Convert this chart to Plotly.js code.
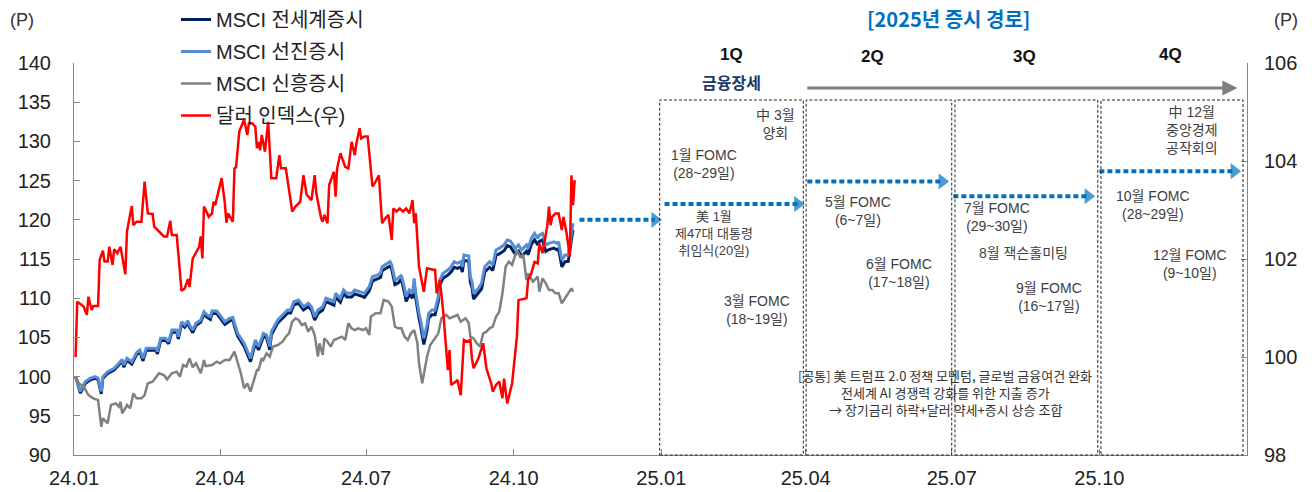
<!DOCTYPE html>
<html><head><meta charset="utf-8">
<script src="https://cdn.plot.ly/plotly-3.0.1.min.js"></script>
<style>html,body{margin:0;padding:0;background:#fff}</style>
</head><body><div id="chart" style="width:1315px;height:492px"></div>
<script>
// ---- data ----
const seriesNames = ['MSCI 전세계증시', 'MSCI 선진증시', 'MSCI 신흥증시', '달러 인덱스(우)'];

const msciDates = [
 '2024-01-02','2024-01-05','2024-01-08','2024-01-11','2024-01-14','2024-01-16','2024-01-18','2024-01-19','2024-01-22','2024-01-26','2024-01-29','2024-01-31',
 '2024-02-01','2024-02-03','2024-02-06','2024-02-09','2024-02-11','2024-02-13','2024-02-15','2024-02-18','2024-02-21','2024-02-22','2024-02-24','2024-02-27','2024-02-29',
 '2024-03-02','2024-03-05','2024-03-06','2024-03-08','2024-03-10','2024-03-12','2024-03-13','2024-03-15','2024-03-17','2024-03-20','2024-03-22','2024-03-24','2024-03-26','2024-03-27','2024-03-30',
 '2024-04-01','2024-04-04','2024-04-07','2024-04-09','2024-04-10','2024-04-12','2024-04-16','2024-04-20','2024-04-23','2024-04-25','2024-04-27','2024-04-28','2024-04-30',
 '2024-05-02','2024-05-03','2024-05-07','2024-05-10','2024-05-13','2024-05-15','2024-05-17','2024-05-20','2024-05-23','2024-05-26','2024-05-28','2024-05-30',
 '2024-06-01','2024-06-04','2024-06-06','2024-06-09','2024-06-11','2024-06-12','2024-06-15','2024-06-17','2024-06-19','2024-06-22','2024-06-24','2024-06-27','2024-06-30',
 '2024-07-03','2024-07-05','2024-07-08','2024-07-10','2024-07-11','2024-07-14','2024-07-16','2024-07-17','2024-07-19','2024-07-21','2024-07-23','2024-07-25','2024-07-26','2024-07-28','2024-07-30','2024-07-31',
 '2024-08-01','2024-08-03','2024-08-04','2024-08-06','2024-08-08','2024-08-09','2024-08-11','2024-08-13','2024-08-15','2024-08-16','2024-08-18','2024-08-21','2024-08-23','2024-08-25','2024-08-27','2024-08-29','2024-08-30','2024-08-31',
 '2024-09-03','2024-09-04','2024-09-05','2024-09-06','2024-09-09','2024-09-11','2024-09-13','2024-09-16','2024-09-18','2024-09-20','2024-09-22','2024-09-25','2024-09-27','2024-09-29',
 '2024-10-02','2024-10-04','2024-10-06','2024-10-09','2024-10-10','2024-10-12','2024-10-14','2024-10-16','2024-10-17','2024-10-19','2024-10-21','2024-10-23','2024-10-26','2024-10-28','2024-10-29','2024-10-31',
 '2024-11-02','2024-11-04','2024-11-06','2024-11-07'
];
const worldVals = [
 100.0,97.9,99.1,99.55,99.8,99.6,97.8,99.8,100.4,100.85,101.5,102.0,
 101.2,102.1,101.6,102.8,103.15,102.0,103.35,103.4,103.4,102.9,104.6,104.65,104.2,
 105.65,105.7,104.8,106.7,106.3,106.85,106.3,105.6,106.5,106.95,108.0,107.55,107.3,108.05,108.05,
 107.55,106.65,107.1,107.25,106.45,105.15,103.85,101.9,104.3,103.4,104.5,105.15,104.95,
 103.4,105.35,106.85,107.45,108.1,108.1,109.15,109.35,108.5,108.95,108.5,107.2,
 108.05,108.5,109.55,109.3,109.1,110.15,109.5,110.6,110.15,110.15,110.55,110.35,110.1,
 110.95,112.2,112.45,112.65,113.5,113.9,114.1,113.7,111.75,111.95,112.4,110.65,109.6,110.45,110.0,111.9,
 110.0,107.45,106.5,104.1,105.9,107.45,107.9,107.9,109.55,111.7,112.55,112.95,113.35,113.95,113.8,114.0,113.35,114.85,
 114.7,112.0,111.4,109.9,110.6,111.2,113.35,113.95,113.55,115.45,115.65,116.05,116.7,116.55,
 115.6,116.0,115.35,116.0,115.55,116.85,117.45,116.8,117.25,117.45,115.95,116.2,116.4,116.15,116.35,114.0,
 114.65,114.7,117.5,118.7
];
const devVals = [
 100.0,98.1,99.35,99.78,99.99,99.8,98.1,100.0,100.63,101.06,101.7,102.2,
 101.48,102.33,101.9,103.05,103.39,102.33,103.61,103.61,103.61,103.18,104.88,104.88,104.45,
 105.94,105.94,105.09,107.0,106.58,107.13,106.58,105.94,106.8,107.22,108.28,107.86,107.64,108.37,108.37,
 107.86,107.0,107.43,107.56,106.8,105.52,104.25,102.33,104.67,103.82,104.88,105.52,105.31,
 103.82,105.73,107.22,107.86,108.5,108.5,109.56,109.77,108.92,109.35,108.92,107.64,
 108.5,108.92,109.99,109.77,109.56,110.62,109.99,111.05,110.62,110.62,111.05,110.83,110.62,
 111.47,112.74,112.95,113.18,114.02,114.45,114.66,114.24,112.32,112.53,112.95,111.26,110.19,111.05,110.62,112.53,
 110.62,108.07,107.2,104.88,106.58,108.07,108.5,108.5,110.19,112.32,113.18,113.6,114.02,114.66,114.45,114.66,114.02,115.51,
 115.38,112.74,112.11,110.62,111.26,111.9,114.02,114.66,114.24,116.15,116.36,116.79,117.42,117.3,
 116.36,116.79,116.15,116.79,116.36,117.63,118.27,117.63,118.06,118.27,116.79,117.0,117.2,117.0,117.2,114.87,
 115.5,115.5,118.27,119.55
];

const emDates = [
 '2024-01-02','2024-01-04','2024-01-07','2024-01-10','2024-01-13','2024-01-16','2024-01-18','2024-01-19','2024-01-22','2024-01-24','2024-01-27','2024-01-29','2024-01-30','2024-01-31',
 '2024-02-02','2024-02-03','2024-02-05','2024-02-07','2024-02-09','2024-02-12','2024-02-14','2024-02-16','2024-02-19','2024-02-23','2024-02-26','2024-02-28',
 '2024-03-02','2024-03-05','2024-03-07','2024-03-09','2024-03-11','2024-03-13','2024-03-15','2024-03-17','2024-03-20','2024-03-22','2024-03-23','2024-03-27','2024-03-30',
 '2024-04-01','2024-04-04','2024-04-07','2024-04-10','2024-04-12','2024-04-14','2024-04-16','2024-04-18','2024-04-20','2024-04-22','2024-04-24','2024-04-25','2024-04-27','2024-04-28','2024-04-30',
 '2024-05-02','2024-05-04','2024-05-07','2024-05-10','2024-05-12','2024-05-14','2024-05-16','2024-05-18','2024-05-20','2024-05-22','2024-05-24','2024-05-26','2024-05-28','2024-05-30',
 '2024-06-01','2024-06-02','2024-06-04','2024-06-05','2024-06-07','2024-06-09','2024-06-11','2024-06-13','2024-06-16','2024-06-18','2024-06-20','2024-06-22','2024-06-24','2024-06-26','2024-06-29',
 '2024-07-01','2024-07-03','2024-07-04','2024-07-07','2024-07-10','2024-07-12','2024-07-15','2024-07-17','2024-07-19','2024-07-21','2024-07-23','2024-07-25','2024-07-27','2024-07-29','2024-07-31',
 '2024-08-02','2024-08-03','2024-08-05','2024-08-08','2024-08-10','2024-08-13','2024-08-15','2024-08-17','2024-08-20','2024-08-22','2024-08-25','2024-08-27','2024-08-29',
 '2024-09-01','2024-09-03','2024-09-04','2024-09-06','2024-09-08','2024-09-10','2024-09-12','2024-09-14','2024-09-16','2024-09-18','2024-09-20','2024-09-22','2024-09-24','2024-09-26','2024-09-28','2024-09-30',
 '2024-10-03','2024-10-05','2024-10-07','2024-10-09','2024-10-10','2024-10-13','2024-10-16','2024-10-17','2024-10-19','2024-10-21','2024-10-23','2024-10-25','2024-10-27','2024-10-29','2024-10-31',
 '2024-11-02','2024-11-04','2024-11-06','2024-11-07'
];
const emVals = [
 100.0,99.14,98.71,97.65,97.23,97.0,93.6,94.68,94.04,96.38,96.59,96.17,96.8,95.32,
 95.96,96.38,95.96,97.87,97.23,97.23,97.65,99.14,99.35,100.42,100.2,99.65,
 100.42,100.63,99.99,101.48,101.27,102.33,101.19,101.7,100.42,102.12,101.35,101.48,101.9,
 101.7,102.12,102.12,103.18,101.7,100.42,98.5,99.14,98.1,99.35,100.84,100.84,102.33,102.12,102.97,
 102.54,103.82,104.03,104.45,105.09,105.52,107.0,107.43,107.22,106.58,106.8,105.73,106.37,105.31,
 102.54,104.25,102.76,104.88,104.45,103.82,104.67,104.88,105.09,104.67,106.8,106.16,105.94,106.16,105.94,
 106.16,105.31,107.64,108.07,108.07,109.77,109.56,108.92,106.37,106.16,106.16,105.09,104.67,105.52,105.94,
 104.25,101.7,99.14,102.54,104.03,104.88,105.52,107.43,107.86,107.43,107.64,107.86,107.0,
 107.43,106.8,105.09,104.88,104.25,103.82,105.52,105.73,106.16,106.37,107.64,108.28,110.62,114.02,114.66,114.24,
 116.15,115.29,115.5,112.32,113.18,112.1,112.74,110.83,112.53,111.9,111.05,111.05,110.62,110.62,109.35,
 109.99,110.62,111.26,110.83
];

const dxyDates = [
 '2024-01-02','2024-01-03','2024-01-07','2024-01-09','2024-01-10','2024-01-12','2024-01-13','2024-01-16','2024-01-17','2024-01-19','2024-01-20','2024-01-22','2024-01-23','2024-01-25','2024-01-26','2024-01-28','2024-01-30',
 '2024-02-02','2024-02-03','2024-02-06','2024-02-07','2024-02-09','2024-02-12','2024-02-14','2024-02-16','2024-02-19','2024-02-20','2024-02-23','2024-02-26','2024-02-28',
 '2024-03-01','2024-03-02','2024-03-05','2024-03-08','2024-03-10','2024-03-12','2024-03-13','2024-03-15','2024-03-19','2024-03-20','2024-03-21','2024-03-22','2024-03-25','2024-03-27','2024-03-28','2024-03-29',
 '2024-04-02','2024-04-04','2024-04-05','2024-04-06','2024-04-09','2024-04-10','2024-04-11','2024-04-13','2024-04-16','2024-04-18','2024-04-19','2024-04-21','2024-04-23','2024-04-24','2024-04-25','2024-04-26','2024-04-27','2024-04-29',
 '2024-05-01','2024-05-03','2024-05-06','2024-05-08','2024-05-09','2024-05-12','2024-05-16','2024-05-18','2024-05-21','2024-05-23','2024-05-25','2024-05-28','2024-05-30','2024-05-31',
 '2024-06-03','2024-06-04','2024-06-05','2024-06-07','2024-06-08','2024-06-11','2024-06-12','2024-06-13','2024-06-15','2024-06-18','2024-06-20','2024-06-22','2024-06-24','2024-06-25','2024-06-27','2024-06-28','2024-06-30',
 '2024-07-02','2024-07-05','2024-07-07','2024-07-09','2024-07-11','2024-07-13','2024-07-15','2024-07-17','2024-07-18','2024-07-20','2024-07-22','2024-07-24','2024-07-26','2024-07-28','2024-07-30','2024-07-31',
 '2024-08-01','2024-08-03','2024-08-06','2024-08-08','2024-08-12','2024-08-13','2024-08-14','2024-08-16','2024-08-18','2024-08-21','2024-08-22','2024-08-23','2024-08-26','2024-08-27','2024-08-29','2024-08-30','2024-08-31',
 '2024-09-02','2024-09-04','2024-09-05','2024-09-06','2024-09-09','2024-09-12','2024-09-14','2024-09-17','2024-09-18','2024-09-20','2024-09-22','2024-09-24','2024-09-25','2024-09-27','2024-09-30',
 '2024-10-03','2024-10-04','2024-10-09','2024-10-10','2024-10-12','2024-10-14','2024-10-16','2024-10-17','2024-10-19','2024-10-22','2024-10-23','2024-10-24','2024-10-25','2024-10-27','2024-10-29','2024-10-31',
 '2024-11-01','2024-11-03','2024-11-05','2024-11-06','2024-11-07','2024-11-08'
];
const dxyVals = [
 100.0,101.13,101.03,100.86,101.23,100.96,101.04,101.04,101.98,102.17,101.95,101.95,102.25,101.88,102.2,102.12,102.25,
 101.69,102.56,103.08,102.69,102.76,102.76,103.58,102.93,102.92,102.66,102.56,102.46,102.46,
 102.78,102.49,102.49,101.35,101.4,101.59,101.43,102.01,102.25,102.46,102.01,103.07,102.86,102.93,103.17,103.1,
 103.65,103.14,102.74,102.93,102.76,103.85,103.87,104.6,104.84,104.53,104.77,104.77,104.7,104.26,104.39,104.22,104.53,104.19,
 104.8,103.65,103.65,104.12,103.85,103.85,102.97,103.07,103.17,103.71,103.31,103.2,103.71,103.34,
 102.83,102.76,102.9,102.73,103.51,103.78,103.27,103.85,104.16,103.88,103.85,104.39,104.12,104.36,104.67,104.46,104.5,
 104.5,103.48,103.58,103.71,102.73,102.83,102.9,102.39,103.03,102.97,103.03,102.97,103.03,102.93,103.2,102.73,
 102.93,101.84,101.33,101.81,101.78,101.78,101.3,101.57,100.96,99.73,100.14,99.43,99.5,99.53,99.22,99.8,100.35,
 100.31,100.35,99.97,99.77,99.97,100.28,99.77,99.46,99.29,99.43,99.5,99.16,99.56,99.05,99.46,
 100.41,101.16,101.2,101.57,101.71,101.94,101.91,102.32,102.12,102.69,103.07,102.69,102.86,102.93,102.93,102.59,
 102.86,102.52,102.05,103.71,103.1,103.61
];

const xTickVals = ['2024-01-01','2024-04-01','2024-07-01','2024-10-01','2025-01-01','2025-04-01','2025-07-01','2025-10-01'];
const xTickText = ['24.01','24.04','24.07','24.10','25.01','25.04','25.07','25.10'];

// expected 2025 path (dotted blue arrows), levels on left axis
const pathStart = ['2024-11-11','2025-01-03','2025-04-02','2025-07-02','2025-10-01'];
const pathEnd   = ['2024-12-28','2025-03-27','2025-06-25','2025-09-24','2025-12-24'];
const pathLevel = [120.0, 122.0, 124.9, 123.0, 126.2];

// quarter boxes
const quarterLabels = ['1Q', '2Q', '3Q', '4Q'];
const boxStart = ['2024-12-31', '2025-04-01 06:00', '2025-07-03', '2025-10-02'];
const boxEnd   = ['2025-03-30 12:00', '2025-07-01', '2025-09-30', '2025-12-29 12:00'];

const eventTexts = [
 '中 3월<br>양회',
 '1월 FOMC<br>(28~29일)',
 '美 1월<br>제47대 대통령<br>취임식(20일)',
 '3월 FOMC<br>(18~19일)',
 '5월 FOMC<br>(6~7일)',
 '6월 FOMC<br>(17~18일)',
 '7월 FOMC<br>(29~30일)',
 '8월 잭슨홀미팅',
 '9월 FOMC<br>(16~17일)',
 '中 12월<br>중앙경제<br>공작회의',
 '10월 FOMC<br>(28~29일)',
 '12월 FOMC<br>(9~10일)'
];
const commonLines = [
 '[공통] 美 트럼프 2.0 정책 모멘텀, 글로벌 금융여건 완화',
 '전세계 AI 경쟁력 강화를 위한 지출 증가',
 '→ 장기금리 하락+달러 약세+증시 상승 조합'
];

// ---- drawing ----
const FONT = 'Liberation Sans, Arial, Noto Sans CJK KR, sans-serif';
const KFONT = 'Noto Sans CJK KR, Liberation Sans, sans-serif';
const PL = 74, PR = 1247, PT = 63, PB = 455;
const px = x => (x - PL) / (PR - PL);
const py = y => (PB - y) / (PB - PT);

const traces = [
  {x: msciDates, y: worldVals, name: seriesNames[0], legendgroup: 'g1', type: 'scatter', mode: 'lines',
   line: {color: '#002060', width: 3}},
  {x: msciDates, y: devVals, name: seriesNames[1], legendgroup: 'g2', type: 'scatter', mode: 'lines',
   line: {color: '#558ED5', width: 3}},
  {x: emDates, y: emVals, name: seriesNames[2], legendgroup: 'g3', type: 'scatter', mode: 'lines',
   line: {color: '#808080', width: 2.5}},
  {x: dxyDates, y: dxyVals, name: seriesNames[3], legendgroup: 'g4', type: 'scatter', mode: 'lines', yaxis: 'y2',
   line: {color: '#FF0000', width: 2.5}}
];
for (let i = 0; i < pathStart.length; i++) {
  traces.push({
    x: [pathStart[i], pathEnd[i]], y: [pathLevel[i], pathLevel[i]], type: 'scatter', mode: 'lines+markers',
    showlegend: false, hoverinfo: 'skip',
    line: {color: '#0070C0', width: 4, dash: '5px,3px'},
    marker: {symbol: 'triangle-right', size: [0, 14], color: '#0070C0', line: {width: 0}}
  });
}

const shapes = boxStart.map((s, i) => ({
  type: 'rect', xref: 'x', yref: 'paper', x0: s, x1: boxEnd[i], y0: 0, y1: py(100),
  line: {color: '#222', width: 1, dash: '3px,2px'}, fillcolor: 'rgba(0,0,0,0)', layer: 'above'
}));

const ann = [];
const txt = (text, x, y, size, opts) => ann.push(Object.assign({
  text: text, xref: 'paper', yref: 'paper', x: px(x), y: py(y), showarrow: false,
  xanchor: 'center', yanchor: 'middle', font: {family: KFONT, size: size, color: '#404040'}
}, opts || {}));

txt('(P)', 22, 20, 18, {font: {family: FONT, size: 18, color: '#333'}});
txt('(P)', 1286, 20, 18, {font: {family: FONT, size: 18, color: '#333'}});
txt('[2025년 증시 경로]', 948, 19, 20, {font: {family: KFONT, size: 20, color: '#0070C0', weight: 700}});
const qx = [731, 872, 1024, 1170];
const qy = [55, 57, 57, 55];
quarterLabels.forEach((q, i) => txt('<b>' + q + '</b>', qx[i], qy[i], 17, {font: {family: FONT, size: 17, color: '#111'}}));
txt('<b>금융장세</b>', 731, 82, 16, {font: {family: KFONT, size: 16, color: '#203864'}});

const evPos = [[775,124],[704,164],[714,234],[757,310],[858,211],[899,273],[997,217],[1023,253],[1049,297],[1192,130],[1153,205],[1190,264]];
const evSize = [14,14,13,14,14,14,14,14,14,14,14,14];
eventTexts.forEach((t, i) => txt(t, evPos[i][0], evPos[i][1], evSize[i], {font: {family: FONT + ', ' + KFONT, size: evSize[i], color: '#404040'}}));
const commonY = [375, 392, 409];
commonLines.forEach((t, i) => txt(t, 945, commonY[i], 13, {font: {family: KFONT, size: 13, color: '#333'}}));

// gray phase arrow
ann.push({text: '', x: '2025-12-26', y: 136.8, ax: '2025-04-01', ay: 136.8, xref: 'x', yref: 'y', axref: 'x', ayref: 'y',
  showarrow: true, arrowhead: 2, arrowsize: 1, arrowwidth: 3, arrowcolor: '#7F7F7F', standoff: 0});

const axisCommon = {
  showline: true, linecolor: '#868686', linewidth: 1, ticks: 'inside', ticklen: 6, tickcolor: '#868686',
  showgrid: false, zeroline: false, tickfont: {family: FONT, size: 20, color: '#222'}
};

const layout = {
  width: 1315, height: 492, margin: {l: PL, r: 1315 - PR, t: PT, b: 492 - PB, pad: 0, autoexpand: false},
  paper_bgcolor: '#fff', plot_bgcolor: '#fff', showlegend: true,
  font: {family: FONT, color: '#333'},
  legend: {x: px(176), y: py(0), xanchor: 'left', yanchor: 'top', bgcolor: 'rgba(0,0,0,0)',
    font: {family: FONT + ', ' + KFONT, size: 20, color: '#222'}, tracegroupgap: 3},
  xaxis: Object.assign({}, axisCommon, {type: 'date', range: ['2024-01-01', '2026-01-01'],
    tickmode: 'array', tickvals: xTickVals, ticktext: xTickText, ticklabelstandoff: 5}),
  yaxis: Object.assign({}, axisCommon, {range: [90, 140], dtick: 5, tick0: 90, ticklabelstandoff: 18}),
  yaxis2: Object.assign({}, axisCommon, {range: [98, 106], dtick: 2, tick0: 98, overlaying: 'y', side: 'right', ticklabelstandoff: 12}),
  shapes: shapes, annotations: ann
};

Plotly.newPlot('chart', traces, layout, {displayModeBar: false, staticPlot: true});
</script>
</body></html>
